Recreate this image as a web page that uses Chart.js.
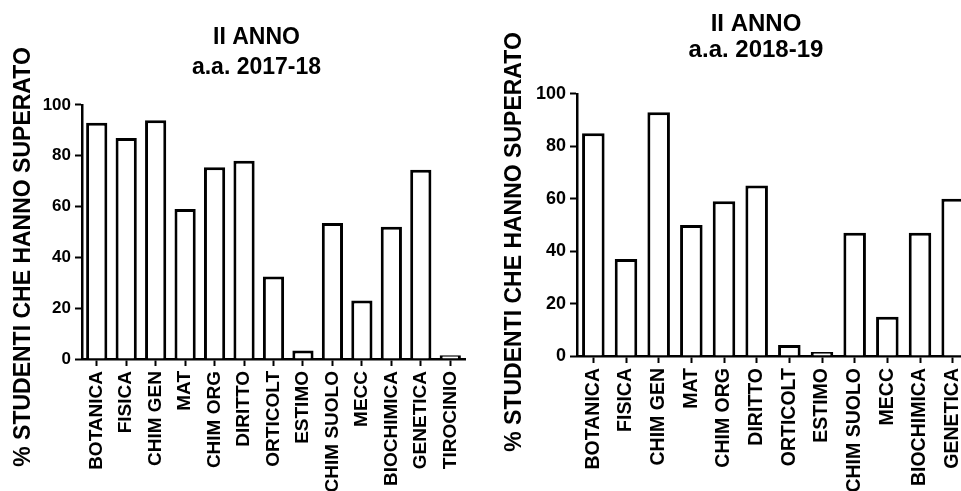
<!DOCTYPE html>
<html>
<head>
<meta charset="utf-8">
<script src="https://cdn.jsdelivr.net/npm/chart.js@4/dist/chart.umd.min.js"></script>
<style>
  body { margin: 0; background: #fff; overflow: hidden; width: 961px; height: 491px; }
  canvas { position: absolute; top: 0; }
  #grafico2017 { left: 0; }
  #grafico2018 { left: 490px; }
</style>
</head>
<body>
<canvas id="grafico2017" width="513" height="520"></canvas>
<canvas id="grafico2018" width="532" height="520"></canvas>
<script>
// Dati
const materie2017 = ["BOTANICA", "FISICA", "CHIM GEN", "MAT", "CHIM ORG", "DIRITTO", "ORTICOLT",
  "ESTIMO", "CHIM SUOLO", "MECC", "BIOCHIMICA", "GENETICA", "TIROCINIO"];
const superati2017 = [93, 87, 94, 59, 75.5, 78, 32.5, 3.3, 53.5, 23, 52, 74.5, 1.5];

const materie2018 = ["BOTANICA", "FISICA", "CHIM GEN", "MAT", "CHIM ORG", "DIRITTO", "ORTICOLT",
  "ESTIMO", "CHIM SUOLO", "MECC", "BIOCHIMICA", "GENETICA"];
const superati2018 = [85, 37, 93, 50, 59, 65, 4.2, 1.5, 47, 15, 47, 60];

const tickY = [0, 20, 40, 60, 80, 100];
const titoloY = "% STUDENTI CHE HANNO SUPERATO";

const FONT = '"Liberation Sans", Arial, sans-serif';

// titolo asse y ruotato (nell'originale non e' centrato sull'asse)
const titoloAsseY = {
  id: "titoloAsseY",
  afterDraw(chart, args, opts) {
    const ctx = chart.ctx;
    ctx.save();
    ctx.translate(opts.x, opts.y);
    ctx.rotate(-Math.PI / 2);
    ctx.font = "bold " + opts.size + "px " + FONT;
    ctx.fillStyle = "#000";
    ctx.textAlign = "center";
    ctx.textBaseline = "middle";
    ctx.fillText(opts.text, 0, 0);
    ctx.restore();
  },
};

function creaGrafico(id, cfg) {
  return new Chart(document.getElementById(id), {
    type: "bar",
    data: {
      labels: cfg.labels,
      datasets: [{
        data: cfg.data,
        backgroundColor: "#fff",
        borderColor: "#000",
        borderWidth: 3,
        barPercentage: cfg.bar,
        categoryPercentage: 1,
      }],
    },
    plugins: [titoloAsseY],
    options: {
      responsive: false,
      animation: false,
      layout: { padding: 0 },
      plugins: {
        legend: { display: false },
        tooltip: { enabled: false },
        title: {
          display: true,
          text: cfg.titolo,
          color: "#000",
          font: { family: FONT, size: cfg.titleSize, weight: "bold", lineHeight: cfg.titleLH },
          padding: { top: cfg.titleTop, bottom: cfg.titleBottom },
        },
        titoloAsseY: { text: titoloY, x: cfg.yTitleX, y: cfg.yTitleY, size: 23 },
      },
      scales: {
        x: {
          offset: true,
          grid: { display: true, drawOnChartArea: false, drawTicks: true, offset: false,
                  tickLength: 7, tickWidth: 2, tickColor: "#000" },
          border: { display: true, color: "#000", width: 2.5 },
          ticks: { color: "#000", font: { family: FONT, size: cfg.xFont, weight: "bold" },
                   minRotation: 90, maxRotation: 90, autoSkip: false, padding: 5 },
          afterFit(s) { s.height = cfg.xHeight; },
        },
        y: {
          min: 0,
          max: 100,
          afterBuildTicks(s) { s.ticks = tickY.map((v) => ({ value: v })); },
          grid: { display: true, drawOnChartArea: false, drawTicks: true,
                  tickLength: 7, tickWidth: 2, tickColor: "#000" },
          border: { display: true, color: "#000", width: 2.5 },
          ticks: { color: "#000", font: { family: FONT, size: cfg.yFont, weight: "bold" }, padding: 4 },
          afterFit(s) { s.width = cfg.yWidth; },
        },
        // spazio vuoto a destra, serve solo a centrare il titolo come nell'originale
        vuoto: {
          position: "right",
          grid: { display: false },
          border: { display: false },
          ticks: { display: false },
          afterFit(s) { s.width = cfg.extraRight; },
        },
      },
    },
  });
}

creaGrafico("grafico2017", {
  labels: materie2017, data: superati2017, bar: 0.72,
  titolo: ["II ANNO", "a.a. 2017-18"], titleSize: 23, titleLH: 1.28, titleTop: 23, titleBottom: 23,
  yWidth: 82, extraRight: 48, xHeight: 161, xFont: 19, yFont: 17,
  yTitleX: 24, yTitleY: 257,
});

creaGrafico("grafico2018", {
  labels: materie2018, data: superati2018, bar: 0.69,
  titolo: ["II ANNO", "a.a. 2018-19"], titleSize: 24, titleLH: 1.06, titleTop: 12, titleBottom: 31,
  yWidth: 87, extraRight: 53, xHeight: 164, xFont: 19.5, yFont: 18,
  yTitleX: 25, yTitleY: 242,
});
</script>
</body>
</html>
